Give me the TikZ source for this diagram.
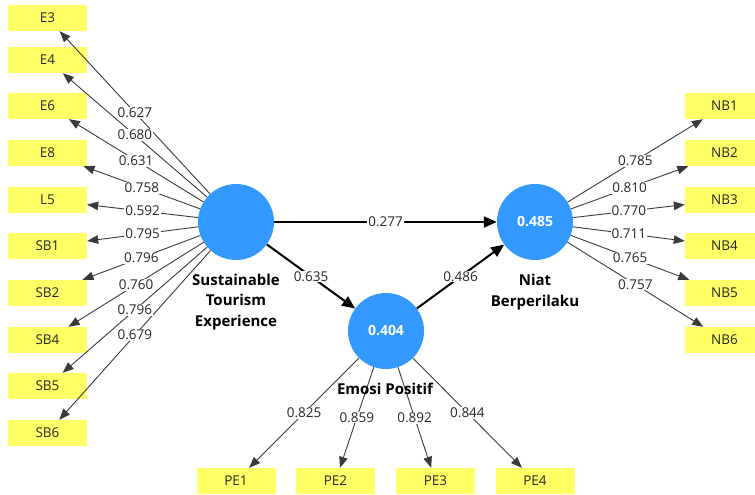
\documentclass[tikz,border=0pt]{standalone}
\usepackage{fontspec}
\setmainfont{Open Sans}
\usetikzlibrary{arrows.meta}
\definecolor{lvblue}{HTML}{3399FF}
\definecolor{mvyellow}{HTML}{FFFF66}
\definecolor{lineg}{HTML}{3A3A3A}
\begin{document}
\begin{tikzpicture}[x=1pt,y=-1pt,
 indicator/.style={fill=mvyellow, minimum width=79pt, minimum height=26pt, inner sep=0pt, font=\fontsize{13.5}{15}\selectfont, text=black!85},
 latent/.style={circle, fill=lvblue, minimum size=76pt, inner sep=0pt, font=\bfseries\fontsize{14}{16}\selectfont, text=white},
 loadline/.style={draw=lineg, line width=0.9pt, -{Triangle[length=11pt,width=8.5pt]}},
 pathline/.style={draw=black, line width=2pt, -{Triangle[length=13pt,width=11pt]}},
 coef/.style={fill=white, inner sep=1pt, font=\fontsize{13.5}{15}\selectfont, text=black!85},
 cname/.style={font=\bfseries\fontsize{15}{20.5}\selectfont, align=center, text=black}]
\useasboundingbox (0,0) rectangle (755,495);

% latent variables
\node[latent] (ste) at (236,222) {};
\node[latent] (ep) at (386,331) {0.404};
\node[latent] (nb) at (535,222) {0.485};

% indicators left
\foreach \n/\y in {E3/18, E4/60, E6/106, E8/153, L5/200, SB1/246, SB2/293, SB4/340, SB5/386, SB6/433}
  \node[indicator] (\n) at (47.5,\y) {\n};
% indicators right
\foreach \n/\y in {NB1/106, NB2/153, NB3/200, NB4/246, NB5/293, NB6/340}
  \node[indicator] (\n) at (724.5,\y) {\n};
% indicators bottom
\foreach \n/\x in {PE1/236, PE2/335.5, PE3/435.5, PE4/535}
  \node[indicator] (\n) at (\x,481) {\n};

% loading lines
\foreach \n in {E3,E4,E6,E8,L5,SB1,SB2,SB4,SB5,SB6}
  \draw[loadline] (ste) -- (\n);
\foreach \n in {NB1,NB2,NB3,NB4,NB5,NB6}
  \draw[loadline] (nb) -- (\n);
\foreach \n in {PE1,PE2,PE3,PE4}
  \draw[loadline] (ep) -- (\n);

% structural paths
\draw[pathline] (ste) -- (nb);
\draw[pathline] (ste) -- (ep);
\draw[pathline] (ep) -- (nb);

% loading labels
\foreach \n/\v in {E3/0.627, E4/0.680, E6/0.631, E8/0.758, L5/0.592, SB1/0.795, SB2/0.796, SB4/0.760, SB5/0.796, SB6/0.679}
  \path (ste) -- (\n) node[coef, midway] {\v};
\foreach \n/\v in {NB1/0.785, NB2/0.810, NB3/0.770, NB4/0.711, NB5/0.765, NB6/0.757}
  \path (nb) -- (\n) node[coef, midway] {\v};
\foreach \n/\v in {PE1/0.825, PE2/0.859, PE3/0.892, PE4/0.844}
  \path (ep) -- (\n) node[coef, midway] {\v};

% path labels
\path (ste) -- (nb) node[coef, midway] {0.277};
\path (ste) -- (ep) node[coef, midway] {0.635};
\path (ep) -- (nb) node[coef, midway] {0.486};

% construct names
\node[cname] (stel) at (236,302) {Sustainable\\Tourism\\Experience};
\node[cname] (epl) at (385,389) {Emosi Positif};
\node[cname] (nbl) at (535,292) {Niat\\Berperilaku};
\end{tikzpicture}
\end{document}
